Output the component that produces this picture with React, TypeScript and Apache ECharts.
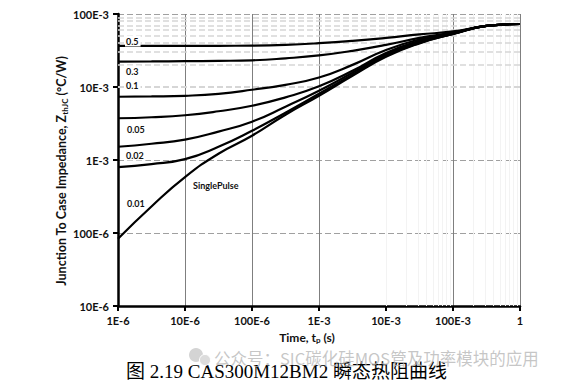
import React, { useEffect, useRef } from "react";
import * as echarts from "echarts";

// Pulse time (s)
const TIMES = [1e-6, 3.16e-6, 1e-5, 3.16e-5, 1e-4, 3.16e-4, 1e-3, 3.16e-3, 1e-2, 3.16e-2, 1e-1, 3.16e-1, 1];

// Zth(j-c) (°C/W) per duty cycle
const Z_D050 = [0.0366, 0.0366, 0.0366, 0.0367, 0.0369, 0.0378, 0.0398, 0.0428, 0.047, 0.0525, 0.0577, 0.0686, 0.0729];
const Z_D030 = [0.0223, 0.0224, 0.0226, 0.0228, 0.0232, 0.0247, 0.0271, 0.0313, 0.0377, 0.047, 0.0558, 0.0686, 0.0729];
const Z_D010 = [0.00735, 0.00742, 0.00758, 0.00807, 0.00916, 0.01072, 0.01349, 0.0201, 0.0322, 0.0449, 0.055, 0.0686, 0.0729];
const Z_D005 = [0.00373, 0.00385, 0.0041, 0.00465, 0.00553, 0.00722, 0.01022, 0.01665, 0.0293, 0.0428, 0.0542, 0.0686, 0.0729];
const Z_D002 = [0.00152, 0.00167, 0.0019, 0.00245, 0.00335, 0.00537, 0.00887, 0.01564, 0.028, 0.0414, 0.0533, 0.0686, 0.0729];
const Z_D001 = [0.0008, 0.000879, 0.001028, 0.00152, 0.00252, 0.00445, 0.00807, 0.01469, 0.0267, 0.0402, 0.0533, 0.0686, 0.0729];
const Z_SINGLE = [0.0000836, 0.000231, 0.000583, 0.00122, 0.00215, 0.00417, 0.00758, 0.01423, 0.0259, 0.0396, 0.0533, 0.0686, 0.0729];

const SERIES_NAMES = ["0.5", "0.3", "0.1", "0.05", "0.02", "0.01", "SinglePulse"];
const SERIES_VALUES = [Z_D050, Z_D030, Z_D010, Z_D005, Z_D002, Z_D001, Z_SINGLE];

const X_TICK_LABELS = ["1E-6", "10E-6", "100E-6", "1E-3", "10E-3", "100E-3", "1"];
const Y_TICK_LABELS = ["10E-6", "100E-6", "1E-3", "10E-3", "100E-3"];
const X_MIN_EXP = -6;
const X_MAX_EXP = 0;
const Y_MIN_EXP = -5;
const Y_MAX_EXP = -1;

const CAPTION = "图 2.19 CAS300M12BM2 瞬态热阻曲线";
const WATERMARK = "公众号：SIC碳化硅MOS管及功率模块的应用";

function minorValues(minExp: number, maxExp: number) {
  const out: number[] = [];
  for (let e = minExp; e < maxExp; e++) {
    for (let k = 2; k <= 9; k++) out.push(k * Math.pow(10, e));
  }
  return out;
}

export default function App() {
  const ref = useRef<HTMLDivElement>(null);

  useEffect(() => {
    if (!ref.current) return;
    const chart = echarts.init(ref.current, null, { renderer: "svg" });
    const labelFont = "Lato, 'Open Sans', sans-serif";

    const curveSeries = SERIES_NAMES.map((name, i) => ({
      name,
      type: "line",
      data: TIMES.map((t, j) => [t, SERIES_VALUES[i][j]]),
      smooth: 0.5,
      showSymbol: false,
      symbol: "none",
      z: 5,
      lineStyle: { color: "#000", width: 2.2 },
    }));

    const gridSeries = {
      type: "line",
      data: [[Math.pow(10, X_MIN_EXP), Math.pow(10, Y_MIN_EXP)]],
      showSymbol: false,
      symbol: "none",
      lineStyle: { width: 0, opacity: 0 },
      silent: true,
      z: 1,
      markLine: {
        silent: true,
        symbol: "none",
        animation: false,
        label: { show: false },
        data: [
          ...minorValues(X_MIN_EXP, X_MAX_EXP).map((v) => ({
            xAxis: v,
            lineStyle: { color: "#f3f3f3", width: 1, type: "solid" },
          })),
          ...minorValues(Y_MIN_EXP, Y_MAX_EXP).map((v) => ({
            yAxis: v,
            lineStyle: { color: "#d6d6d6", width: 1.5, type: [6, 3] },
          })),
        ],
      },
    };

    const lbl = (text: string, x: number, y: number, size = 9) => ({
      type: "text",
      x,
      y,
      z: 20,
      style: {
        text,
        fill: "#111",
        font: `bold ${size}px ${labelFont}`,
        align: "left",
        verticalAlign: "middle",
        backgroundColor: "#fff",
        padding: [1, 2, 1, 1],
      },
    });

    const option = {
      animation: false,
      backgroundColor: "#fff",
      grid: { left: 118, right: 46, top: 14, bottom: 78 },
      xAxis: {
        type: "log",
        logBase: 10,
        min: Math.pow(10, X_MIN_EXP),
        max: Math.pow(10, X_MAX_EXP),
        name: "Time, t{sub|p} (s)",
        nameLocation: "middle",
        nameGap: 24,
        nameTextStyle: {
          color: "#111",
          fontFamily: labelFont,
          fontWeight: "bold",
          fontSize: 12,
          padding: [0, 24, 0, 0],
          rich: { sub: { fontSize: 8, fontWeight: "bold", fontFamily: labelFont, padding: [6, 0, 0, 0] } },
        },
        axisLine: { show: true, lineStyle: { color: "#000", width: 2.5 } },
        axisTick: { show: true, length: 5, lineStyle: { color: "#000", width: 2 } },
        axisLabel: {
          margin: 9,
          color: "#111",
          fontFamily: labelFont,
          fontWeight: "bold",
          fontSize: 11,
          formatter: (v: number) => X_TICK_LABELS[Math.round(Math.log10(v)) - X_MIN_EXP] ?? "",
        },
        splitLine: { show: true, lineStyle: { color: "#7f7f7f", width: 1 } },
      },
      yAxis: {
        type: "log",
        logBase: 10,
        min: Math.pow(10, Y_MIN_EXP),
        max: Math.pow(10, Y_MAX_EXP),
        axisLine: { show: true, lineStyle: { color: "#000", width: 2.5 } },
        axisTick: { show: true, length: 5, lineStyle: { color: "#000", width: 2 } },
        axisLabel: {
          margin: 9,
          color: "#111",
          fontFamily: labelFont,
          fontWeight: "bold",
          fontSize: 11,
          formatter: (v: number) => Y_TICK_LABELS[Math.round(Math.log10(v)) - Y_MIN_EXP] ?? "",
        },
        splitLine: { show: true, lineStyle: { color: "#a0a0a0", width: 1.2, type: [6, 3] } },
      },
      series: [gridSeries, ...curveSeries],
      graphic: [
        lbl(SERIES_NAMES[0], 125, 41),
        lbl(SERIES_NAMES[1], 125, 71),
        lbl(SERIES_NAMES[2], 125, 85),
        lbl(SERIES_NAMES[3], 126, 129),
        lbl(SERIES_NAMES[4], 125, 155),
        lbl(SERIES_NAMES[5], 126, 203),
        lbl(SERIES_NAMES[6], 192, 185),
        {
          type: "text",
          x: 61,
          y: 171,
          rotation: Math.PI / 2,
          z: 20,
          style: {
            text: "Junction To Case Impedance, Z{sub|thJC} ({n|°C/W})",
            fill: "#111",
            font: `bold 12.5px ${labelFont}`,
            align: "center",
            verticalAlign: "middle",
            rich: {
              sub: { fontSize: 8, fontWeight: "bold", fontFamily: labelFont, fill: "#111", padding: [7, 0, 0, 0] },
              n: { fontSize: 12.5, fontWeight: "bold", fontFamily: labelFont, fill: "#111" },
            },
          },
        },
        {
          type: "circle",
          shape: { cx: 196, cy: 355, r: 7 },
          style: { fill: "#d4d4d4" },
          z: 30,
        },
        {
          type: "circle",
          shape: { cx: 205, cy: 360, r: 5.5 },
          style: { fill: "#dcdcdc", stroke: "#fff", lineWidth: 1 },
          z: 31,
        },
        {
          type: "text",
          x: 214,
          y: 358,
          z: 30,
          style: {
            text: WATERMARK,
            fill: "rgba(180,180,180,0.75)",
            font: "16.5px 'Noto Sans CJK SC', sans-serif",
            align: "left",
            verticalAlign: "middle",
          },
        },
        {
          type: "text",
          x: 126,
          y: 371,
          z: 29,
          style: {
            text: CAPTION,
            fill: "#000",
            font: "19px 'Liberation Serif', 'Noto Sans CJK SC', serif",
            align: "left",
            verticalAlign: "middle",
          },
        },
      ],
    };

    chart.setOption(option as any);
    return () => chart.dispose();
  }, []);

  return (
    <div
      ref={ref}
      style={{ position: "absolute", left: 0, top: 0, width: 566, height: 384, background: "#fff" }}
    />
  );
}
